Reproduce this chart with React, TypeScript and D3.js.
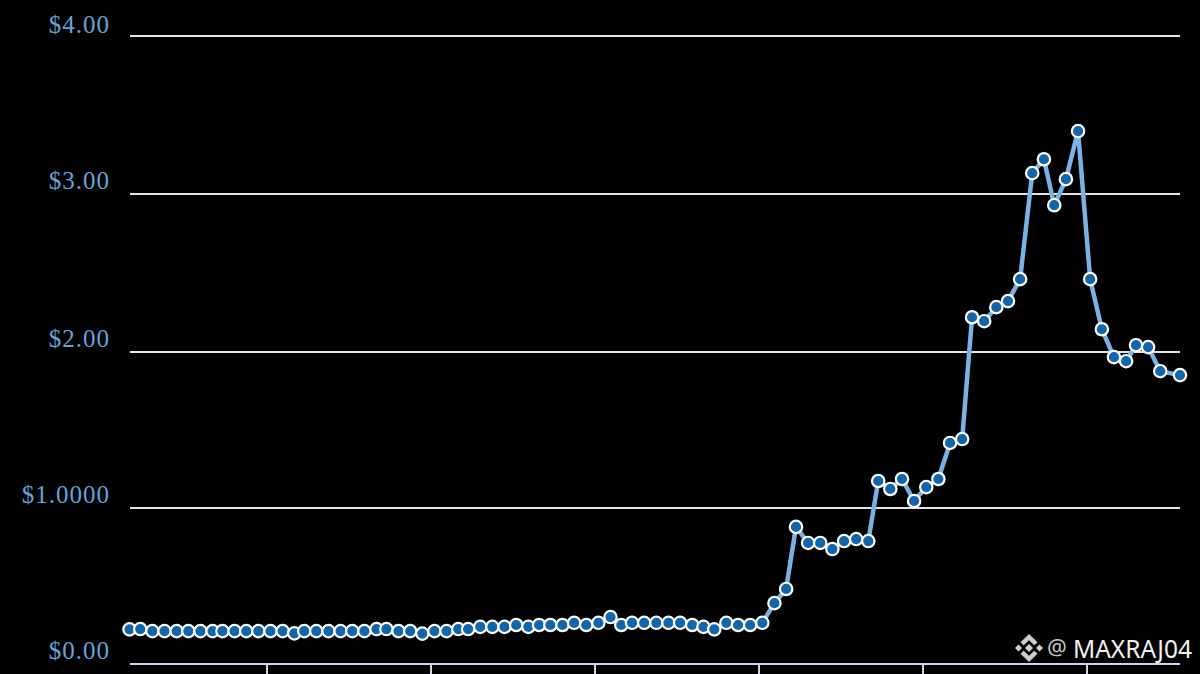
import React from "react";
import * as d3 from "d3";

const dayOffsets = [0,24,51,78,105,131,158,185,207,234,260,287,314,341,367,389,416,443,470,496,523,550,572,599,625,652,679,706,732,754,781,808,835,861,888,912,937,964,990,1017,1044,1071,1095,1119,1146,1173,1200,1226,1253,1278,1302,1329,1355,1382,1409,1436,1462,1484,1511,1538,1565,1591,1618,1645,1667,1694,1720,1747,1774,1801,1827,1854,1876,1903,1930,1956,1983,2010,2036,2059,2085,2112,2139,2165,2192,2219,2241,2268,2295,2339];
const prices = [.222,.224,.211,.211,.211,.211,.211,.211,.211,.211,.211,.211,.211,.211,.196,.211,.211,.211,.211,.211,.211,.224,.224,.211,.211,.195,.211,.211,.224,.224,.238,.238,.238,.25,.238,.25,.25,.25,.264,.25,.264,.301,.25,.264,.264,.264,.264,.264,.25,.238,.222,.264,.25,.25,.264,.39,.481,.879,.776,.776,.737,.788,.801,.788,1.173,1.122,1.186,1.045,1.134,1.186,1.417,1.442,2.22,2.195,2.284,2.322,2.461,3.132,3.22,2.929,3.094,3.398,2.461,2.144,1.967,1.941,2.043,2.031,1.877,1.852];
const yTicks = [0,1,2,3,4];
const yLabels = ["$0.00","$1.0000","$2.00","$3.00","$4.00"];
const xTickDays = [307,672,1037,1401,1766,2132];
const watermark = "MAXRAJ04";

const W = 1200, H = 674;
const x = d3.scaleLinear().domain([0,2339]).range([129.5,1180]);
const y = d3.scaleLinear().domain(yTicks).range([664,508,352,194,36]);
const lineGen = d3.line<number>().x((_,i)=>x(dayOffsets[i])).y(d=>y(d));
const LOGO = "#cfcfcf";

function diamond(cx:number,cy:number,r:number){return `M${cx} ${cy-r}L${cx+r} ${cy}L${cx} ${cy+r}L${cx-r} ${cy}Z`;}

export default function App(){
  return (
    <svg width={W} height={H} viewBox={`0 0 ${W} ${H}`} style={{position:"absolute",left:0,top:0,background:"#000",display:"block"}}>
      <rect width={W} height={H} fill="#000"/>
      {yTicks.filter(t=>t>0).map(t=>(
        <line key={t} x1={130} x2={1180} y1={y(t)} y2={y(t)} stroke="#e6e6e6" strokeWidth={2}/>
      ))}
      <line x1={130} x2={1180} y1={664} y2={664} stroke="#ccd6eb" strokeWidth={2}/>
      {xTickDays.map(d=>(
        <line key={d} x1={Math.round(x(d))} x2={Math.round(x(d))} y1={664} y2={674} stroke="#ccd6eb" strokeWidth={2}/>
      ))}
      {yTicks.map((t,i)=>(
        <text key={t} x={110} y={Math.max(33,y(t)-5)} textAnchor="end" fill="#64a5d8" fontFamily="'Liberation Serif',serif" fontSize={25} letterSpacing={1}>{yLabels[i]}</text>
      ))}
      <path d={lineGen(prices)||""} fill="none" stroke="#7cb1e6" strokeWidth={4.5} strokeLinejoin="round" strokeLinecap="round"/>
      {prices.map((p,i)=>(
        <circle key={i} cx={x(dayOffsets[i])} cy={y(p)} r={6.2} fill="#1165a8" stroke="#fff" strokeWidth={2.2}/>
      ))}
      <g fill={LOGO}>
        <path d={diamond(1029,648,4)}/>
        <path d={diamond(1018.5,648,3.5)}/>
        <path d={diamond(1039.5,648,3.5)}/>
        <path d="M1029 634L1037.5 642.2L1034.3 645.2L1029 640.2L1023.7 645.2L1020.5 642.2Z"/>
        <path d="M1029 662L1037.5 653.8L1034.3 650.8L1029 655.8L1023.7 650.8L1020.5 653.8Z"/>
      </g>
      <text x={1047} y={655} fill="#c4c4c4" fontFamily="'Noto Sans',sans-serif" fontSize={22}>@</text>
      <text x={1192} y={658} textAnchor="end" fill="#f2f2f2" fontFamily="'Noto Sans',sans-serif" fontSize={24.5}>{watermark}</text>
    </svg>
  );
}
